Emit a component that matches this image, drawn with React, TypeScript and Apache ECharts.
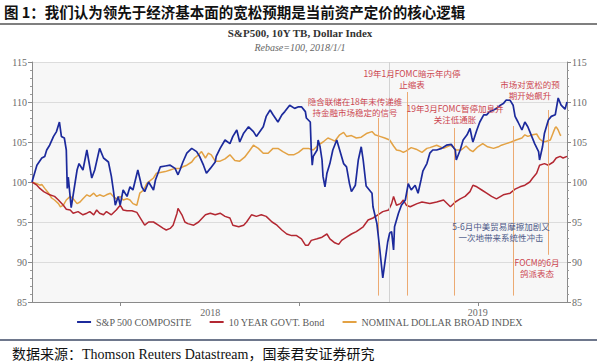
import React, { useEffect, useRef } from "react";
import * as echarts from "echarts";

// ---------- texts ----------
const figureTitle = "图 1：我们认为领先于经济基本面的宽松预期是当前资产定价的核心逻辑";
const chartTitle = "S&P500, 10Y TB, Dollar Index";
const chartSubtitle = "Rebase=100, 2018/1/1";
const sourceText = "数据来源：Thomson Reuters Datastream，国泰君安证券研究";
const seriesNames = ["S&P 500 COMPOSITE", "10 YEAR GOVT. Bond", "NOMINAL DOLLAR BROAD INDEX"];

// x axis: days since 2018-01-01
const xMax = 546;
const xTickDays = [90, 273, 455];
const xLabelDays = [182, 455];
const xLabelTexts = ["2018", "2019"];
const yMin = 85;
const yMax = 115;
const yStep = 5;

// ---------- data ----------
const spDays = [0,5,10,13,15,18,22,25,28,30,33,35,36,37,40,46,48,52,56,61,64,69,73,78,81,83,85,88,90,93,97,100,103,108,112,115,119,124,126,131,136,141,146,149,151,154,158,163,168,171,175,178,182,187,188,192,197,202,205,209,212,216,221,226,229,236,239,243,246,251,255,258,263,268,272,275,279,280,284,285,286,287,291,292,294,296,297,299,301,304,307,311,314,318,321,324,326,330,333,336,338,341,347,348,352,355,358,360,363,365,367,369,370,374,377,381,384,387,391,394,397,399,403,406,409,413,418,423,428,432,433,437,440,444,447,449,450,454,457,461,464,467,471,474,478,481,484,488,491,493,496,500,503,506,510,513,517,518,521,523,527,530,534,537,540,544,546];
const spValues = [100,102.1,103.0,103.2,104.0,104.6,105.7,106.3,107.5,105.7,105.5,104.0,99.2,100.6,96.8,101.5,102.3,101.5,104.0,100.5,101.5,104.2,103.0,102.5,100.7,99.0,97.1,98.2,97.1,99.0,98.2,99.4,99.0,101.5,99.4,98.8,100.0,99.0,100.25,101.9,102.0,102.1,101.7,100.9,101.5,102.5,103.6,104.2,103.8,103.2,102.1,101.1,101.7,102.5,103.2,104.2,105.25,104.8,105.7,106.5,105.0,106.1,106.9,106.3,105.7,106.9,108.2,109.0,108.4,107.5,108.4,108.8,109.6,109.2,109.4,109.4,108.8,108.0,107.5,104.0,102.1,103.2,104.0,105.25,104.4,102.75,100.7,99.4,101.1,102.3,104.0,105.25,104.0,102.3,101.9,99.8,98.8,99.6,102.75,104.4,102.75,99.5,98.6,96.9,94.8,91.5,88.0,89.8,92.5,93.6,93.8,91.5,94.4,96.1,97.1,97.75,99.8,99.0,99.6,98.6,100.25,101.4,102.3,103.6,104.0,104.0,104.2,104.6,104.7,104.0,102.75,104.0,105.25,105.9,106.7,105.5,105.0,106.5,107.5,108.4,108.4,108.8,109.0,109.2,109.6,109.8,110.25,110.2,109.6,108.2,107.5,106.5,107.5,106.9,105.7,104.8,103.8,102.75,104.4,106.1,107.75,108.2,108.4,110.5,109.6,109.1,110.0];

const tbDays = [0,5,8,12,18,23,27,32,35,39,42,47,52,56,59,63,66,69,73,76,81,86,90,93,97,102,107,112,115,119,124,129,134,137,141,144,148,149,153,156,159,165,170,177,182,187,192,197,202,205,211,216,219,224,229,234,239,245,250,255,260,265,270,275,279,282,285,291,296,301,304,309,313,316,321,326,331,338,343,348,353,358,364,367,369,372,376,379,382,386,393,398,406,413,420,427,432,437,442,447,450,454,459,464,469,474,481,488,493,498,503,508,511,515,518,523,527,532,535,539,542,546];
const tbValues = [100,99.6,99.2,98.8,98.4,98.2,97.75,97.1,96.6,96.5,96.1,96.3,95.9,96.1,96.3,95.9,96.5,96.1,95.9,96.3,95.9,96.5,97.1,96.5,96.4,96.4,96.2,95.2,94.6,95.0,95.0,94.6,94.2,94.0,94.2,94.6,96.1,96.7,95.9,95.0,94.8,94.6,95.0,95.9,96.1,95.9,96.1,95.7,95.5,94.6,94.4,94.6,95.0,95.9,95.7,95.9,95.7,95.0,94.6,94.0,93.5,93.3,93.3,92.9,92.1,92.1,92.7,92.9,93.1,93.5,92.9,92.4,92.2,92.7,93.1,93.5,93.8,94.4,95.25,95.5,95.9,96.3,96.5,97.3,98.2,97.1,97.3,97.75,97.1,96.9,97.3,97.5,97.3,97.5,97.75,96.9,97.5,97.9,98.2,98.8,99.6,99.4,99.0,98.6,98.2,97.9,98.4,98.6,99.1,99.4,99.6,100.0,100.5,101.1,102.1,102.3,102.1,102.5,103.0,103.2,103.0,103.2];

const usdDays = [0,5,8,10,13,17,20,23,27,29,32,35,39,42,46,49,52,56,59,63,66,69,73,76,80,83,86,90,93,97,100,103,107,110,114,117,120,124,127,131,136,141,146,151,154,158,163,166,170,173,177,180,183,187,192,197,202,207,212,217,222,226,231,236,241,246,251,256,262,267,272,277,282,287,292,297,302,306,309,314,318,321,326,331,336,342,347,350,355,360,365,369,372,376,379,382,387,392,398,403,406,413,420,427,433,438,443,447,450,455,460,465,471,476,479,484,489,494,500,503,506,511,515,518,522,525,529,532,534,535,537,539,540];
const usdValues = [100,99.8,99.6,99.7,99.2,98.6,98.0,97.75,97.3,96.9,97.1,97.75,98.2,97.9,97.3,97.5,97.9,98.4,98.2,98.6,98.2,98.4,98.2,98.4,98.6,98.2,97.9,98.2,97.75,97.9,97.75,97.3,97.1,98.6,99.0,99.8,100.1,100.5,101.1,101.2,101.3,101.5,101.7,101.7,101.9,102.1,102.5,103.0,103.4,103.8,103.0,103.6,103.4,102.6,102.6,102.9,103.4,102.7,102.6,103.1,103.9,104.6,104.2,103.6,103.6,104.2,104.2,103.8,103.4,103.4,103.7,104.2,104.2,104.0,104.6,105.0,105.5,105.3,105.1,105.9,106.2,105.7,105.8,105.5,105.6,106.1,106.3,105.9,105.7,105.5,105.25,104.5,104.0,103.9,103.7,103.9,104.3,104.1,103.7,104.2,104.3,104.6,104.2,104.6,104.0,104.0,104.5,104.0,103.8,104.4,104.8,104.4,104.2,104.4,104.6,104.8,105.0,105.25,105.5,105.9,105.7,105.9,106.0,105.4,105.0,105.1,105.25,106.2,106.8,106.9,106.5,105.9,105.8];

// annotation guide lines (day, top value, bottom value)
const annLineDays = [353, 383, 431, 491, 527];
const annLineTop = [108, 111.25, 106.75, 107, 109];
const annLineBottom = [85.8, 85.8, 85.8, 85.8, 90.9];
const yearBoundaryDay = 365;

const annTexts = [
  { text: "隐含联储在18年末传递维\n持金融市场稳定的信号", kind: "red" },
  { text: "19年1月FOMC暗示年内停\n止缩表", kind: "red" },
  { text: "19年3月FOMC暂停加息并\n关注低通胀", kind: "red" },
  { text: "市场对宽松的预\n期开始飙升", kind: "red" },
  { text: "5-6月中美贸易摩擦加剧又\n一次地带来系统性冲击", kind: "blue" },
  { text: "FOCM的6月\n鸽派表态", kind: "red" },
];
const annTextPos = [
  [355, 95],
  [412, 67],
  [455, 102],
  [530, 78],
  [501, 220],
  [537, 256],
];

const COLORS = ["#1c2a9c", "#b32832", "#e3a244"];
const RED_TEXT = "#cc4650";
const BLUE_TEXT = "#4d5a88";
const SERIF = '"Liberation Serif", "Times New Roman", serif';
const CJK = '"Noto Sans CJK SC", sans-serif';

function zip(xs: number[], ys: number[]) {
  return xs.map((x, i) => [x, ys[i]]);
}

export default function App() {
  const ref = useRef<HTMLDivElement>(null);
  useEffect(() => {
    if (!ref.current) return;
    const chart = echarts.init(ref.current, undefined, { renderer: "svg" });

    const guideLines = annLineDays.map((d, i) => [
      { coord: [d, annLineTop[i]] },
      { coord: [d, annLineBottom[i]] },
    ]);

    const yAxisCommon = {
      type: "value",
      min: yMin,
      max: yMax,
      interval: yStep,
      axisLine: { show: true, lineStyle: { color: "#8a8a8a", width: 1 } },
      axisTick: { show: true, length: 4, lineStyle: { color: "#8a8a8a" } },
      minorTick: { show: true, splitNumber: 5, length: 2, lineStyle: { color: "#9a9a9a" } },
      axisLabel: { color: "#6a6a6a", fontFamily: SERIF, fontSize: 10, margin: 5 },
    };

    const option: any = {
      animation: false,
      backgroundColor: "#ffffff",
      grid: {
        left: 32,
        right: 33,
        top: 62,
        bottom: 61,
        show: true,
        backgroundColor: "#f7f7f7",
        borderWidth: 0,
      },
      legend: {
        bottom: 31,
        left: "center",
        itemWidth: 14,
        itemHeight: 10,
        itemGap: 18,
        icon: "path://M0,4 L14,4 L14,6 L0,6 Z",
        textStyle: { fontFamily: SERIF, fontSize: 10, color: "#5a5a5a" },
        data: seriesNames,
      },
      xAxis: {
        type: "value",
        min: 0,
        max: xMax,
        splitLine: { show: false },
        axisLine: { show: true, lineStyle: { color: "#8a8a8a" } },
        axisTick: { show: true, length: 4, customValues: xTickDays, lineStyle: { color: "#8a8a8a" } },
        axisLabel: {
          customValues: xLabelDays,
          formatter: (v: number) => xLabelTexts[xLabelDays.indexOf(v)] ?? "",
          color: "#6a6a6a",
          fontFamily: SERIF,
          fontSize: 10,
          margin: 5,
        },
      },
      yAxis: [
        {
          ...yAxisCommon,
          position: "left",
          splitLine: { show: true, lineStyle: { color: "#dcdcdc", width: 1 } },
        },
        {
          ...yAxisCommon,
          position: "right",
          splitLine: { show: false },
        },
      ],
      series: [
        {
          name: seriesNames[0],
          type: "line",
          data: zip(spDays, spValues),
          symbol: "none",
          z: 5,
          lineStyle: { color: COLORS[0], width: 1.7 },
          itemStyle: { color: COLORS[0] },
          markLine: {
            silent: true,
            symbol: "none",
            label: { show: false },
            lineStyle: { color: "#ecaa72", width: 1, type: "solid" },
            data: [
              ...guideLines,
              [
                { coord: [yearBoundaryDay, yMax], lineStyle: { color: "#d2d2d2" } },
                { coord: [yearBoundaryDay, yMin] },
              ],
            ],
          },
        },
        {
          name: seriesNames[1],
          type: "line",
          data: zip(tbDays, tbValues),
          symbol: "none",
          z: 4,
          lineStyle: { color: COLORS[1], width: 1.5 },
          itemStyle: { color: COLORS[1] },
        },
        {
          name: seriesNames[2],
          type: "line",
          data: zip(usdDays, usdValues),
          symbol: "none",
          z: 3,
          lineStyle: { color: COLORS[2], width: 1.5 },
          itemStyle: { color: COLORS[2] },
        },
      ],
      graphic: [
        {
          type: "text",
          left: 4,
          top: 4,
          style: { text: figureTitle, fill: "#111", font: `bold 14.5px ${CJK}` },
        },
        {
          type: "line",
          shape: { x1: 0, y1: 24, x2: 597, y2: 24 },
          style: { stroke: "#555", lineWidth: 1.5 },
        },
        {
          type: "text",
          x: 300,
          y: 33,
          style: {
            text: chartTitle,
            fill: "#333",
            font: `bold 11px ${SERIF}`,
            textAlign: "center",
            textVerticalAlign: "middle",
          },
        },
        {
          type: "text",
          x: 300,
          y: 47,
          style: {
            text: chartSubtitle,
            fill: "#666",
            font: `italic 10px ${SERIF}`,
            textAlign: "center",
            textVerticalAlign: "middle",
          },
        },
        {
          type: "line",
          shape: { x1: 0, y1: 340, x2: 597, y2: 340 },
          style: { stroke: "#3e4a66", lineWidth: 1.5 },
        },
        {
          type: "text",
          x: 12,
          y: 354,
          style: {
            text: sourceText,
            fill: "#111",
            font: `14px ${SERIF.replace("serif", "")} "Noto Sans CJK SC"`,
            textVerticalAlign: "middle",
          },
        },
        ...annTexts.map((a, i) => ({
          type: "text",
          x: annTextPos[i][0],
          y: annTextPos[i][1],
          z: 10,
          style: {
            text: a.text,
            fill: a.kind === "blue" ? BLUE_TEXT : RED_TEXT,
            font: `8.5px ${CJK}`,
            textAlign: "center",
            textVerticalAlign: "top",
            lineHeight: 11.5,
          },
        })),
      ],
    };
    chart.setOption(option);
    return () => chart.dispose();
  }, []);
  return (
    <div
      ref={ref}
      style={{ position: "absolute", left: 0, top: 0, width: 600, height: 363 }}
    />
  );
}
